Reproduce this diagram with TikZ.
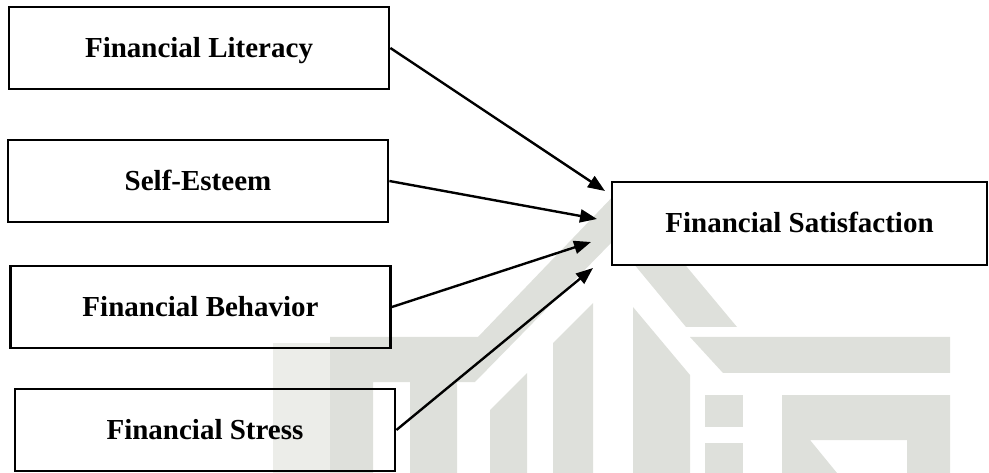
\documentclass[tikz,border=0pt]{standalone}
\usepackage{fontspec}
\setmainfont{Liberation Serif}
\usetikzlibrary{arrows.meta}
\definecolor{wmgrey}{RGB}{222,224,219}
\definecolor{wmlight}{RGB}{236,237,233}
\begin{document}
\begin{tikzpicture}[x=1pt,y=-1pt,
  box/.style={draw, line width=2.8pt, minimum width=380pt, minimum height=82pt,
    inner sep=0pt, font=\fontsize{29}{34}\selectfont\bfseries,
    text height=19pt, text depth=0pt, align=center},
  conn/.style={line width=2.4pt, -{Triangle[length=17pt,width=13pt]}},
  wm/.style={fill=wmgrey, draw=none},
  wml/.style={fill=wmlight, draw=none}]
\useasboundingbox (0,0) rectangle (989,473);
% watermark (faint logo)
\fill[wml] (273,343) rectangle (330,473);
\fill[wm] (621,188) -- (737,327) -- (686,327) -- (614,240) -- (475,382) -- (457,382)
  -- (457,473) -- (410,473) -- (410,382) -- (373,382) -- (373,473) -- (330,473)
  -- (330,337) -- (478,337) -- cycle;
\fill[wm] (690,337) -- (950,337) -- (950,373) -- (723,373) -- cycle;
\fill[wm] (490,473) -- (490,410) -- (527,373) -- (527,473) -- cycle;
\fill[wm] (553,473) -- (553,343) -- (593,303) -- (593,473) -- cycle;
\fill[wm] (633,473) -- (633,307) -- (690,375) -- (690,473) -- cycle;
\fill[wm] (705,395) rectangle (743,427);
\fill[wm] (705,443) rectangle (743,473);
\fill[wm, even odd rule] (782,395) rectangle (950,473)
  (810,440) -- (907,440) -- (907,473) -- (837,473) -- cycle;
% boxes
\node[box] (lit) at (199,48) {Financial Literacy};
\node[box] (est) at (198,181) {Self-Esteem};
\node[box] (beh) at (200.5,307) {Financial Behavior};
\node[box] (str) at (205,430) {Financial Stress};
\node[box, minimum width=375pt, minimum height=83pt, fill=white] (sat) at (799.5,223.5) {Financial Satisfaction};
% arrow tips
\coordinate (t1) at (605,191);
\coordinate (t2) at (597,219);
\coordinate (t3) at (591,242);
\coordinate (t4) at (593,268);
\draw[conn] (lit.east) -- (t1);
\draw[conn] (est.east) -- (t2);
\draw[conn] (beh.east) -- (t3);
\draw[conn] (str.east) -- (t4);
\end{tikzpicture}
\end{document}
